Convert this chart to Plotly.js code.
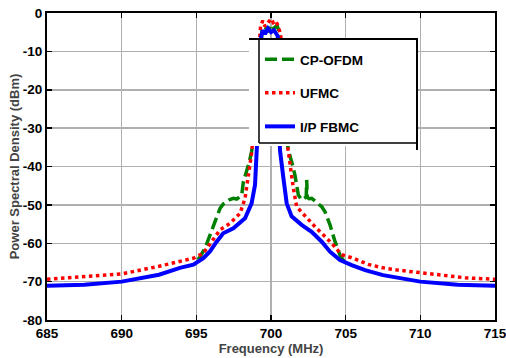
<!DOCTYPE html>
<html>
<head>
<meta charset="utf-8">
<script src="https://cdn.plot.ly/plotly-3.0.1.min.js"></script>
<style>html,body{margin:0;padding:0;background:#fff;}#chart{width:506px;height:358px;}</style>
</head>
<body>
<div id="chart"></div>
<script>
// CP-OFDM (green dashed)
const cpofdmFreq = [695.1,695.25,695.58,695.92,696.25,696.59,696.8,697.03,697.25,697.48,697.7,697.9,698.04,698.15,698.37,698.55,698.7,698.85,699.0,699.15,699.3,699.4,699.6,699.8,700.0,700.2,700.4,700.6,700.7,700.8,700.95,701.16,701.4,701.6,701.83,702.05,702.25,702.36,702.39,702.43,702.55,702.72,702.95,703.17,703.4,703.62,703.95,704.29,704.62,704.84,705.0];
const cpofdmPsd  = [-64.3,-63.5,-61.3,-57.8,-54.4,-50.9,-49.8,-49.2,-48.6,-48.3,-48.5,-47.9,-47.4,-44,-41.3,-38.8,-36.1,-32,-26,-18,-8,-4.5,-3.5,-5,-3,-4,-3.2,-5.5,-10,-22,-30,-35.7,-39,-42.2,-47.4,-48.7,-48.2,-47.9,-43.5,-48.1,-48.4,-48.3,-49,-49.6,-50.5,-51.8,-55.2,-59.6,-63.1,-64.4,-65];

// UFMC (red dotted)
const ufmcFreq = [685,687.5,690,692.5,694.2,694.8,695.47,696.03,696.59,697.26,697.93,698.26,698.48,698.7,698.85,699.0,699.15,699.3,699.45,699.6,699.8,700.0,700.15,700.3,700.5,700.65,700.8,700.95,701.16,701.27,701.5,701.72,702.28,702.95,703.5,704.06,704.73,705.5,706.5,707.5,708.5,710,711.5,713,715];
const ufmcPsd  = [-69.4,-68.8,-68,-66,-64.3,-63.9,-62.6,-59.6,-56.5,-54.8,-52.2,-48.3,-43.1,-36.6,-30,-20,-10,-3.5,-2,-3.5,-2.5,-1.5,-2.5,-2,-3.5,-6,-18,-30,-36.1,-39.6,-45.7,-50.5,-53,-55.7,-57.8,-60,-63,-63.9,-65.5,-66.4,-67,-67.7,-68.5,-69,-69.4];

// I/P FBMC (blue solid)
const fbmcFreq = [685,687.5,690,692.5,693.9,694.8,695.47,695.9,696.36,696.8,697.48,698.26,698.7,698.93,699.04,699.15,699.25,699.35,699.45,699.6,699.8,700.0,700.2,700.35,700.45,700.52,700.6,700.83,701.05,701.38,702.05,702.72,703.4,703.95,704.62,705.4,706.3,707.5,710,712.5,715];
const fbmcPsd  = [-71.1,-70.8,-70,-68.2,-66.4,-65.6,-63.9,-62.2,-59.6,-57.4,-56.1,-53.5,-49.6,-44.8,-36.1,-28,-15,-6,-4.5,-5.5,-4,-5,-4.5,-5.5,-6,-15,-35.7,-43,-49.6,-53,-55.2,-57,-59.6,-62.2,-64.4,-65.7,-67,-68.3,-70,-70.8,-71.1];

const seriesNames = ['CP-OFDM','UFMC','I/P FBMC'];
const xTicks = [685,690,695,700,705,710,715];
const yTicks = [-80,-70,-60,-50,-40,-30,-20,-10,0];

const FONT = 'Liberation Sans, Arial, sans-serif';

const traces = [
  {x: cpofdmFreq, y: cpofdmPsd, name: seriesNames[0], mode: 'lines', legendgroup: 'a',
   line: {color: '#008000', width: 3.5, dash: '12px,5px'}},
  {x: ufmcFreq, y: ufmcPsd, name: seriesNames[1], mode: 'lines', legendgroup: 'b',
   line: {color: '#ff0000', width: 3.5, dash: 'dot'}},
  {x: fbmcFreq, y: fbmcPsd, name: seriesNames[2], mode: 'lines', legendgroup: 'c',
   line: {color: '#0000ff', width: 4}}
];

// plot area in px: left 47, right 495, top 13, bottom 320
const px = v => (v - 47) / 448;
const py = v => (320 - v) / 307;

const layout = {
  width: 506, height: 358,
  margin: {l: 47, r: 11, t: 13, b: 38},
  paper_bgcolor: '#fff', plot_bgcolor: '#fff',
  showlegend: true,
  legend: {
    x: px(260), y: py(44), xanchor: 'left', yanchor: 'top',
    bgcolor: 'rgba(0,0,0,0)', borderwidth: 0,
    traceorder: 'grouped', tracegroupgap: 13,
    font: {family: FONT, size: 13.5, weight: 700, color: '#000'}
  },
  xaxis: {
    range: [685, 715], tickvals: xTicks, ticktext: xTicks.map(String),
    showgrid: true, gridcolor: '#b0b0b0', gridwidth: 1.5, zeroline: false,
    showline: true, linecolor: '#000', linewidth: 2, mirror: 'ticks',
    ticks: 'inside', ticklen: 5, tickwidth: 1.5, tickcolor: '#000',
    ticklabeloverflow: 'allow',
    tickfont: {family: FONT, size: 13.5, weight: 700, color: '#000'},
    title: {text: 'Frequency (MHz)', standoff: 2, font: {family: FONT, size: 13, weight: 700, color: '#444'}},
    automargin: false
  },
  yaxis: {
    range: [-80, 0], tickvals: yTicks, ticktext: yTicks.map(String),
    showgrid: true, gridcolor: '#b0b0b0', gridwidth: 1.5, zeroline: false,
    showline: true, linecolor: '#000', linewidth: 2, mirror: 'ticks',
    ticks: 'inside', ticklen: 5, tickwidth: 1.5, tickcolor: '#000',
    ticklabeloverflow: 'allow',
    tickfont: {family: FONT, size: 13.5, weight: 700, color: '#000'},
    title: {text: 'Power Spectral Density (dBm)', standoff: 0, font: {family: FONT, size: 13, weight: 700, color: '#444'}},
    automargin: false
  },
  shapes: [
    {type: 'rect', xref: 'paper', yref: 'paper', x0: px(249), x1: px(418), y0: py(146), y1: py(39),
     fillcolor: '#fff', line: {width: 0}, layer: 'above'},
    {type: 'line', xref: 'paper', yref: 'paper', x0: px(249), x1: px(418), y0: py(39), y1: py(39), line: {color: '#000', width: 2}, layer: 'above'},
    {type: 'line', xref: 'paper', yref: 'paper', x0: px(259), x1: px(259), y0: py(143), y1: py(39), line: {color: '#000', width: 1.5}, layer: 'above'},
    {type: 'line', xref: 'paper', yref: 'paper', x0: px(259), x1: px(417), y0: py(143), y1: py(143), line: {color: '#000', width: 1.5}, layer: 'above'},
    {type: 'line', xref: 'paper', yref: 'paper', x0: px(417), x1: px(417), y0: py(150), y1: py(39), line: {color: '#000', width: 2}, layer: 'above'}
  ]
};

Plotly.newPlot('chart', traces, layout, {displayModeBar: false, staticPlot: true});
</script>
</body>
</html>
